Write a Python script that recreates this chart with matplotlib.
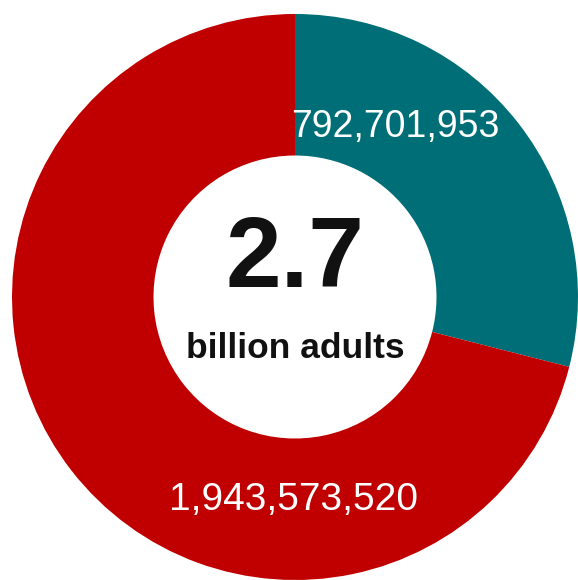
import matplotlib.pyplot as plt

# donut data
labels = ["792,701,953", "1,943,573,520"]
values = [792701953, 1943573520]
colors = ["#006e76", "#c00000"]
center_value = "2.7"
center_caption = "billion adults"

FONT = ["Liberation Sans Narrow", "Liberation Sans", "DejaVu Sans"]


def main() -> None:
    fig = plt.figure(figsize=(5.78, 5.80), dpi=100)
    ax = fig.add_axes([0, 0, 1, 1])

    radius = 283
    ax.pie(
        values,
        colors=colors,
        startangle=90,
        counterclock=False,
        radius=radius,
        wedgeprops=dict(width=radius * 0.5, linewidth=0),
    )

    # label positions in pixel-like data units (center at origin)
    ax.text(100, 170, labels[0], ha="center", va="center", color="white",
            fontsize=27, family=FONT)
    ax.text(-2, -203, labels[1], ha="center", va="center", color="white",
            fontsize=28, family=FONT)

    ax.text(0, 36, center_value, ha="center", va="center", color="#111111",
            fontsize=72, fontweight="bold", family=FONT)
    ax.text(0, -52, center_caption, ha="center", va="center", color="#111111",
            fontsize=25.5, fontweight="bold", family=FONT)

    ax.set_xlim(-295, 283)
    ax.set_ylim(-283, 297)
    ax.set_aspect("equal")
    ax.axis("off")

    fig.savefig("out.png", dpi=100, facecolor="white")
    plt.close(fig)


if __name__ == "__main__":
    main()
